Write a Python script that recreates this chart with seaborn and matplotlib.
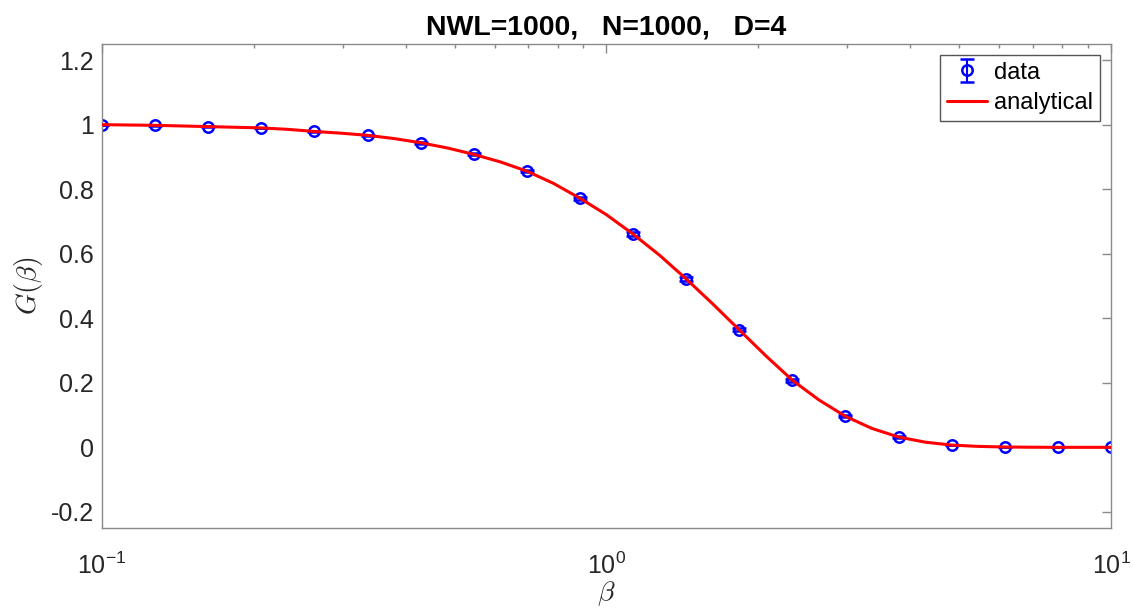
import numpy as np
import pandas as pd
import matplotlib
matplotlib.use("Agg")
import matplotlib.pyplot as plt
import seaborn as sns
from matplotlib.ticker import LogLocator, NullFormatter, FixedLocator, FixedFormatter

# Simulation results: 20 log-spaced inverse temperatures
beta_data = [0.1, 0.1274, 0.1624, 0.2069, 0.2637, 0.3360, 0.4281, 0.5456,
             0.6952, 0.8859, 1.1288, 1.4384, 1.8330, 2.3357, 2.9764, 3.7927,
             4.8329, 6.1585, 7.8476, 10.0]
G_data = [1.000, 0.998, 0.994, 0.990, 0.979, 0.967, 0.944, 0.908,
          0.856, 0.772, 0.661, 0.522, 0.364, 0.208, 0.096, 0.032,
          0.007, 0.001, 0.000, 0.000]
G_err = [0.000, 0.001, 0.001, 0.001, 0.002, 0.002, 0.003, 0.003,
         0.004, 0.004, 0.005, 0.005, 0.005, 0.004, 0.003, 0.002,
         0.001, 0.000, 0.000, 0.000]

# Analytical prediction evaluated on a finer grid
beta_curve = [0.1, 0.1129, 0.1274, 0.1438, 0.1624, 0.1833, 0.2069, 0.2336,
              0.2637, 0.2976, 0.3360, 0.3793, 0.4281, 0.4833, 0.5456, 0.6158,
              0.6952, 0.7848, 0.8859, 1.0000, 1.1288, 1.2743, 1.4384, 1.6238,
              1.8330, 2.0691, 2.3357, 2.6367, 2.9764, 3.3598, 3.7927, 4.2813,
              4.8329, 5.4556, 6.1585, 6.9519, 7.8476, 8.8587, 10.0]
G_curve = [1.000, 0.999, 0.998, 0.996, 0.994, 0.992, 0.990, 0.9855,
           0.979, 0.9737, 0.967, 0.957, 0.944, 0.928, 0.908, 0.8847,
           0.856, 0.8182, 0.772, 0.7209, 0.661, 0.5953, 0.522, 0.4446,
           0.364, 0.2837, 0.208, 0.1469, 0.096, 0.0584, 0.032, 0.016,
           0.007, 0.0029, 0.001, 0.0003, 0.000, 0.000, 0.000]

y_ticks = [-0.2, 0, 0.2, 0.4, 0.6, 0.8, 1, 1.2]
y_tick_labels = ["-0.2", "0", "0.2", "0.4", "0.6", "0.8", "1", "1.2"]

sns.set_theme(style="white")
plt.rcParams["font.family"] = ["Liberation Sans", "DejaVu Sans"]
plt.rcParams["mathtext.fontset"] = "cm"
plt.rcParams["axes.unicode_minus"] = False

text_col = "#262626"
axis_col = "#8a8a8a"

fig = plt.figure(figsize=(11.33, 6.08), dpi=100)
ax = fig.add_axes([0.0900, 0.1316, 0.8906, 0.7960])

eb = ax.errorbar(beta_data, G_data, yerr=G_err, fmt="o", color="#0000ff",
                 mfc="none", mec="#0000ff", ms=7.5, mew=1.8,
                 elinewidth=1.5, capsize=5, capthick=1.5, zorder=2)

curve = pd.DataFrame({"beta": beta_curve, "G": G_curve})
sns.lineplot(data=curve, x="beta", y="G", color="#ff0000", lw=2.2,
             ax=ax, zorder=3, legend=False)
line = ax.lines[-1]
line.set_solid_joinstyle("round")

ax.set_xscale("log")
ax.set_xlim(0.1, 10)
ax.set_ylim(-0.25, 1.25)

ax.yaxis.set_major_locator(FixedLocator(y_ticks))
ax.yaxis.set_major_formatter(FixedFormatter(y_tick_labels))
ax.xaxis.set_major_locator(LogLocator(base=10, numticks=10))
ax.xaxis.set_minor_locator(LogLocator(base=10, subs=np.arange(2, 10), numticks=10))
ax.xaxis.set_minor_formatter(NullFormatter())

ax.tick_params(axis="both", which="both", direction="in", top=True, right=True,
               colors=axis_col, labelcolor=text_col, labelsize=18)
ax.tick_params(axis="both", which="major", length=6.5, width=1)
ax.tick_params(axis="both", which="minor", length=3.2, width=1)
ax.tick_params(axis="x", which="major", pad=18)
ax.tick_params(axis="y", which="major", pad=6)

for s in ax.spines.values():
    s.set_visible(True)
    s.set_color(axis_col)
    s.set_linewidth(1.0)

ax.set_title("NWL=1000,   N=1000,   D=4", fontsize=20.5, fontweight="bold",
             color="black", pad=7)
ax.set_xlabel(r"$\beta$", fontsize=20, color=text_col, labelpad=0)
ax.set_ylabel(r"$G(\beta)$", fontsize=20, color=text_col, labelpad=4)

leg = ax.legend([eb, line], ["data", "analytical"], loc="upper right",
                fontsize=17, frameon=True, fancybox=False, framealpha=1,
                edgecolor="#555555", handlelength=1.7, handletextpad=0.3,
                borderpad=0.3, labelspacing=0.35, borderaxespad=0.45)
leg.get_frame().set_linewidth(1.0)
for t in leg.get_texts():
    t.set_color("black")

fig.savefig("out.png", dpi=100, facecolor="white")
